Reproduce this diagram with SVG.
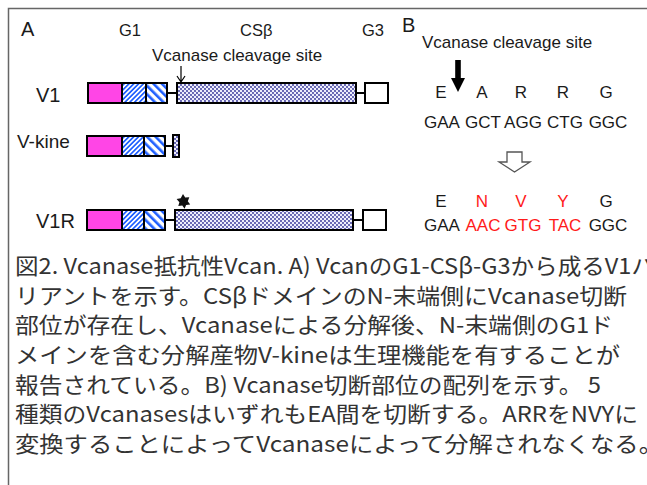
<svg xmlns="http://www.w3.org/2000/svg" width="647" height="485" viewBox="0 0 647 485">
<defs>
<pattern id="h1" width="3.4" height="3.4" patternUnits="userSpaceOnUse" patternTransform="rotate(45)"><rect width="3.4" height="3.4" fill="#fff"/><rect width="1.7" height="3.4" fill="#1f5fff"/></pattern>
<pattern id="h2" width="6" height="6" patternUnits="userSpaceOnUse" patternTransform="rotate(-45)"><rect width="6" height="6" fill="#fff"/><rect width="2.6" height="6" fill="#1f5fff"/></pattern>
<pattern id="dots" width="4" height="4" patternUnits="userSpaceOnUse"><rect width="4" height="4" fill="#eeeefc"/><circle cx="1" cy="1" r="0.9" fill="#2a2a92"/><circle cx="3" cy="3" r="0.9" fill="#2a2a92"/></pattern>
</defs>
<style>
.b{stroke:#000;stroke-width:2}
.mg{fill:#ff45e6}
.p1{fill:url(#h1)}
.p2{fill:url(#h2)}
.cs{fill:url(#dots)}
.g3{fill:#fff}
.ln{stroke:#000;stroke-width:2;fill:none}
.t{font-family:"Liberation Sans",Arial,sans-serif;fill:#1a1a1a}
.red{fill:#ff1a1a}
.cap{font-family:"Noto Sans CJK JP","Noto Sans",sans-serif;font-size:22px;fill:#333}
</style>
<rect width="647" height="485" fill="#fff"/>
<path d="M8.5 485 V8.5 H647" fill="none" stroke="#666" stroke-width="1.5"/>

<g id="panelA-labels" class="t">
<text x="21" y="36" font-size="20">A</text>
<text x="119" y="36" font-size="16.5">G1</text>
<text x="240" y="36" font-size="16.5">CSβ</text>
<text x="362" y="36" font-size="16.5">G3</text>
<text x="152" y="61" font-size="17">Vcanase cleavage site</text>
</g>

<g id="connectors">
<line class="ln" x1="167" y1="93" x2="177" y2="93"/>
<line class="ln" x1="356" y1="93" x2="365" y2="93"/>
<line class="ln" x1="165" y1="146" x2="173" y2="146"/>
<line class="ln" x1="165" y1="220" x2="175" y2="220"/>
<line class="ln" x1="353" y1="220" x2="363" y2="220"/>
<path d="M181 66 V82 M177 76 L181 82 L185 76" fill="none" stroke="#000" stroke-width="1.2"/>
</g>

<g id="V1">
<text class="t" x="36" y="102" font-size="20">V1</text>
<rect class="b mg" x="88" y="83" width="34" height="20"/>
<rect class="b p1" x="122" y="83" width="24" height="20"/>
<rect class="b p2" x="146" y="83" width="21" height="20"/>
<rect class="b cs" x="177" y="83" width="179" height="20"/>
<rect class="b g3" x="365" y="83" width="23" height="20"/>
</g>

<g id="V-kine">
<text class="t" x="17" y="148" font-size="19">V-kine</text>
<rect class="b mg" x="87" y="136" width="35" height="20"/>
<rect class="b p1" x="122" y="136" width="22" height="20"/>
<rect class="b p2" x="144" y="136" width="21" height="20"/>
<rect class="b cs" x="173" y="135" width="6" height="22"/>
</g>

<g id="V1R">
<text class="t" x="36" y="228" font-size="20">V1R</text>
<rect class="b mg" x="87" y="210" width="35" height="20"/>
<rect class="b p1" x="122" y="210" width="22" height="20"/>
<rect class="b p2" x="144" y="210" width="21" height="20"/>
<rect class="b cs" x="175" y="210" width="178" height="20"/>
<rect class="b g3" x="363" y="210" width="23" height="20"/>
<polygon fill="#111" points="183,194 185.2,197.6 189.3,197.3 187.8,201.2 190.2,204.6 186.1,205 184.6,208.8 182.3,205.4 178.3,206.1 179.4,202.2 176.6,199.1 180.7,198.2"/>
</g>

<g id="panelB" class="t">
<text x="402" y="32" font-size="20">B</text>
<text x="422" y="48" font-size="17">Vcanase cleavage site</text>
<rect x="455.2" y="60" width="5.6" height="20" fill="#000"/>
<polygon points="451,78 465,78 458,92" fill="#000"/>
<g font-size="17" text-anchor="middle">
<text x="441" y="98">E</text><text x="482" y="98">A</text><text x="521" y="98">R</text><text x="563" y="98">R</text><text x="606" y="98">G</text>
<text x="442" y="128">GAA</text><text x="483" y="128">GCT</text><text x="523" y="128">AGG</text><text x="565" y="128">CTG</text><text x="608" y="128">GGC</text>
</g>
<polygon points="507,152 522,152 522,162 530,162 514.5,172 499,162 507,162" fill="#fff" stroke="#555" stroke-width="1.3"/>
<g font-size="17" text-anchor="middle">
<text x="441" y="207">E</text><text class="red" x="482" y="207">N</text><text class="red" x="521" y="207">V</text><text class="red" x="563" y="207">Y</text><text x="606" y="207">G</text>
<text x="442" y="231">GAA</text><text class="red" x="483" y="231">AAC</text><text class="red" x="523" y="231">GTG</text><text class="red" x="565" y="231">TAC</text><text x="608" y="231">GGC</text>
</g>
</g>

<g id="caption" class="cap">
<text x="15" y="274" textLength="640" lengthAdjust="spacingAndGlyphs">図2. Vcanase抵抗性Vcan. A) VcanのG1-CSβ-G3から成るV1バ</text>
<text x="15" y="304" textLength="612" lengthAdjust="spacingAndGlyphs">リアントを示す。CSβドメインのN-末端側にVcanase切断</text>
<text x="15" y="333" textLength="598" lengthAdjust="spacingAndGlyphs">部位が存在し、Vcanaseによる分解後、N-末端側のG1ド</text>
<text x="15" y="363" textLength="605" lengthAdjust="spacingAndGlyphs">メインを含む分解産物V-kineは生理機能を有することが</text>
<text x="15" y="393" textLength="586" lengthAdjust="spacingAndGlyphs">報告されている。B) Vcanase切断部位の配列を示す。 5</text>
<text x="15" y="422" textLength="623" lengthAdjust="spacingAndGlyphs">種類のVcanasesはいずれもEA間を切断する。ARRをNVYに</text>
<text x="15" y="452" textLength="648" lengthAdjust="spacingAndGlyphs">変換することによってVcanaseによって分解されなくなる。</text>
</g>
</svg>
